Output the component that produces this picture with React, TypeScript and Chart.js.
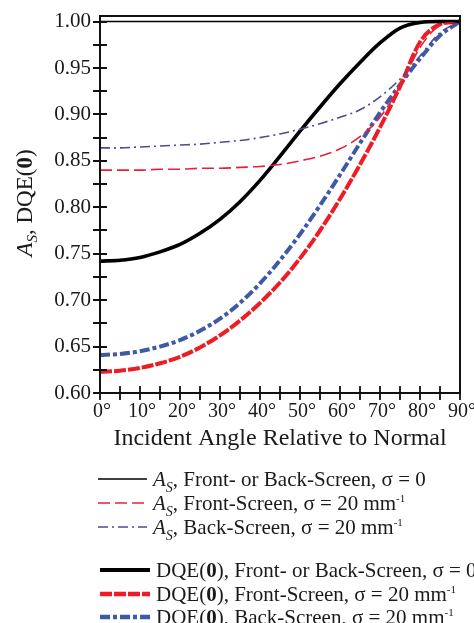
import React, { useEffect, useRef } from 'react';
import { Chart, registerables } from 'chart.js';

Chart.register(...registerables);

const SERIF = '"Liberation Serif", "Times New Roman", serif';

// Incident angle (degrees)
const angles = [0, 5, 10, 15, 20, 25, 30, 35, 40, 45, 50, 55, 60, 65, 70, 75, 80, 85, 90];

// A_S, front- or back-screen, sigma = 0
const asSigma0 = [1, 1, 1, 1, 1, 1, 1, 1, 1, 1, 1, 1, 1, 1, 1, 1, 1, 1, 1];
// A_S, front-screen, sigma = 20 mm^-1
const asFront = [0.840, 0.840, 0.840, 0.841, 0.841, 0.842, 0.842, 0.843, 0.844, 0.846, 0.850, 0.855, 0.863, 0.876, 0.897, 0.930, 0.972, 0.996, 1.0];
// A_S, back-screen, sigma = 20 mm^-1
const asBack = [0.864, 0.864, 0.865, 0.866, 0.867, 0.868, 0.870, 0.872, 0.875, 0.879, 0.884, 0.890, 0.897, 0.905, 0.919, 0.938, 0.963, 0.988, 1.0];
// DQE(0), front- or back-screen, sigma = 0
const dqeSigma0 = [0.742, 0.743, 0.746, 0.752, 0.760, 0.772, 0.787, 0.806, 0.829, 0.855, 0.882, 0.908, 0.933, 0.956, 0.977, 0.993, 0.999, 1.0, 1.0];
// DQE(0), front-screen, sigma = 20 mm^-1
const dqeFront = [0.623, 0.624, 0.627, 0.632, 0.639, 0.649, 0.662, 0.678, 0.697, 0.719, 0.745, 0.775, 0.809, 0.846, 0.886, 0.930, 0.978, 0.997, 1.0];
// DQE(0), back-screen, sigma = 20 mm^-1
const dqeBack = [0.641, 0.642, 0.645, 0.650, 0.657, 0.667, 0.680, 0.697, 0.718, 0.743, 0.771, 0.802, 0.835, 0.869, 0.902, 0.932, 0.960, 0.985, 1.0];

const xTitle = 'Incident Angle Relative to Normal';

type Part = { text: string; style?: string; size: number; dy?: number };

const AS = (size: number, sub: number, dy: number): Part[] => [
  { text: 'A', style: 'italic', size },
  { text: 'S', style: 'italic', size: sub, dy },
  { text: ',', size },
];
const DQE = (size: number): Part[] => [
  { text: 'DQE(', size },
  { text: '0', style: 'bold', size },
  { text: ')', size },
];
const LF = 21;
const SUP: Part = { text: '-1', size: 11, dy: -8 };

const legendRows: Part[][] = [
  [...AS(LF, 14, 6), { text: ' Front- or Back-Screen, σ = 0', size: LF }],
  [...AS(LF, 14, 6), { text: ' Front-Screen, σ = 20 mm', size: LF }, SUP],
  [...AS(LF, 14, 6), { text: ' Back-Screen, σ = 20 mm', size: LF }, SUP],
  [...DQE(LF), { text: ', Front- or Back-Screen, σ = 0', size: LF }],
  [...DQE(LF), { text: ', Front-Screen, σ = 20 mm', size: LF }, SUP],
  [...DQE(LF), { text: ', Back-Screen, σ = 20 mm', size: LF }, SUP],
];
const legendY = [479, 503, 527, 570, 594, 617];

function drawRich(ctx: CanvasRenderingContext2D, parts: Part[], x: number, y: number, center: boolean) {
  const widths = parts.map((p) => {
    ctx.font = `${p.style || 'normal'} ${p.size}px ${SERIF}`;
    return ctx.measureText(p.text).width;
  });
  const total = widths.reduce((a, b) => a + b, 0);
  let cx = center ? x - total / 2 : x;
  parts.forEach((p, i) => {
    ctx.font = `${p.style || 'normal'} ${p.size}px ${SERIF}`;
    ctx.fillText(p.text, cx, y + (p.dy || 0));
    cx += widths[i];
  });
}

const decorPlugin = {
  id: 'decor',
  afterDatasetsDraw(chart: any) {
    const { ctx, chartArea, scales } = chart;
    const { left, right, top, bottom } = chartArea;
    ctx.save();
    ctx.strokeStyle = '#111';
    ctx.lineWidth = 2;
    ctx.strokeRect(left, top, right - left, bottom - top);
    ctx.lineWidth = 1.8;
    ctx.beginPath();
    for (let i = 0; i <= 16; i++) {
      const py = Math.round(scales.y.getPixelForValue(0.6 + i * 0.025));
      ctx.moveTo(left - 7, py);
      ctx.lineTo(left + 7, py);
    }
    for (let i = 0; i <= 18; i++) {
      const px = Math.round(scales.x.getPixelForValue(i * 5));
      ctx.moveTo(px, bottom - 7);
      ctx.lineTo(px, bottom + 7);
    }
    ctx.stroke();
    ctx.restore();
  },
  afterDraw(chart: any) {
    const { ctx } = chart;
    ctx.save();
    ctx.fillStyle = '#1a1a1a';
    // y-axis title
    ctx.save();
    ctx.translate(26, 203);
    ctx.rotate(-Math.PI / 2);
    ctx.textBaseline = 'middle';
    drawRich(ctx, [...AS(23, 15, 7), { text: ' ', size: 23 }, ...DQE(23)], 0, 0, true);
    ctx.restore();
    // legend
    ctx.textBaseline = 'alphabetic';
    chart.data.datasets.forEach((ds: any, i: number) => {
      const y = legendY[i];
      const thick = i >= 3;
      ctx.save();
      ctx.strokeStyle = ds.borderColor;
      ctx.lineWidth = thick ? ds.borderWidth + 0.6 : ds.borderWidth;
      ctx.setLineDash(ds.borderDash || []);
      ctx.beginPath();
      ctx.moveTo(thick ? 100 : 98, y);
      ctx.lineTo(thick ? 150 : 147, y);
      ctx.stroke();
      ctx.restore();
      drawRich(ctx, legendRows[i], thick ? 156 : 153, y + 7, false);
    });
    ctx.restore();
  },
};

const toXY = (vals: number[]) => vals.map((v, i) => ({ x: angles[i], y: v }));

export default function App() {
  const ref = useRef<HTMLCanvasElement | null>(null);
  useEffect(() => {
    if (!ref.current) return;
    const common = { pointRadius: 0, fill: false, cubicInterpolationMode: 'monotone' as const };
    const chart = new Chart(ref.current, {
      type: 'line',
      data: {
        datasets: [
          { ...common, label: 'As σ0', data: toXY(asSigma0), borderColor: '#000000', borderWidth: 1.6 },
          { ...common, label: 'As front', data: toXY(asFront), borderColor: '#e8203a', borderWidth: 1.6, borderDash: [12, 5] },
          { ...common, label: 'As back', data: toXY(asBack), borderColor: '#4a4d8e', borderWidth: 1.6, borderDash: [10, 4, 2, 4] },
          { ...common, label: 'DQE σ0', data: toXY(dqeSigma0), borderColor: '#000000', borderWidth: 3.6 },
          { ...common, label: 'DQE front', data: toXY(dqeFront), borderColor: '#ee1c25', borderWidth: 4, borderDash: [12, 2] },
          { ...common, label: 'DQE back', data: toXY(dqeBack), borderColor: '#3e59a6', borderWidth: 4, borderDash: [10, 3, 4, 3] },
        ],
      },
      options: {
        responsive: false,
        animation: false,
        layout: { padding: { left: 0, right: 14, top: 16, bottom: 0 } },
        plugins: { legend: { display: false }, tooltip: { enabled: false } },
        scales: {
          x: {
            type: 'linear',
            min: 0,
            max: 90,
            grid: { display: false, drawTicks: false },
            border: { display: false },
            ticks: {
              stepSize: 10,
              padding: 7,
              labelOffset: 2,
              color: '#1a1a1a',
              font: { family: SERIF, size: 20 },
              callback: (v: any) => `${v}°`,
            },
            title: {
              display: true,
              text: xTitle,
              color: '#1a1a1a',
              font: { family: SERIF, size: 24 },
              padding: { top: 0, bottom: 170 },
            },
            afterFit: (s: any) => {
              s.height = 230;
              s.paddingLeft = 0;
              s.paddingRight = 0;
            },
          },
          y: {
            type: 'linear',
            min: 0.6,
            max: 1.006,
            grid: { display: false, drawTicks: false },
            border: { display: false },
            ticks: {
              stepSize: 0.05,
              includeBounds: false,
              padding: 9,
              color: '#1a1a1a',
              font: { family: SERIF, size: 21 },
              callback: (v: any) => Number(v).toFixed(2),
            },
            afterFit: (s: any) => {
              s.width = 100;
              s.paddingTop = 0;
              s.paddingBottom = 0;
            },
          },
        },
      },
      plugins: [decorPlugin],
    });
    return () => chart.destroy();
  }, []);
  return (
    <div style={{ position: 'absolute', left: 0, top: 0, width: 474, height: 623, background: '#fff' }}>
      <canvas ref={ref} width={474} height={623} style={{ width: 474, height: 623, display: 'block' }} />
    </div>
  );
}
